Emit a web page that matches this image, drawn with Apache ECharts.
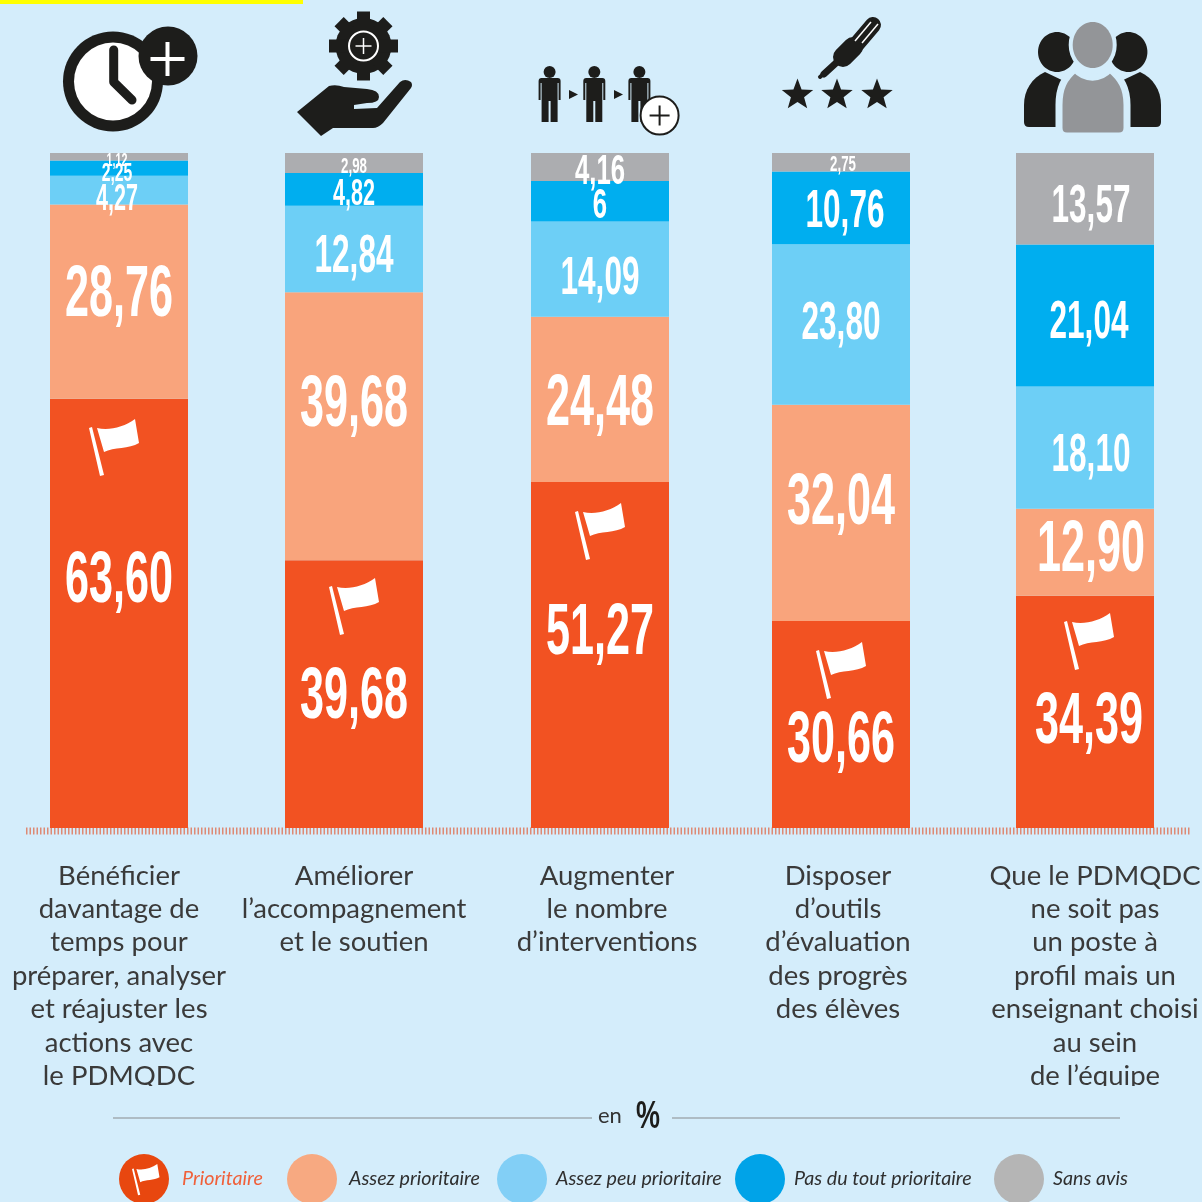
<!DOCTYPE html>
<html><head><meta charset="utf-8">
<style>html,body{margin:0;padding:0;background:#d4edfb}#c{width:1202px;height:1202px}</style>
<script src="https://cdn.jsdelivr.net/npm/echarts@6/dist/echarts.min.js"></script>
</head><body><div id="c"></div>
<script>
// ---- data ----
const categories = [
  "Bénéficier\ndavantage de\ntemps pour\npréparer, analyser\net réajuster les\nactions avec\nle PDMQDC",
  "Améliorer\nl’accompagnement\net le soutien",
  "Augmenter\nle nombre\nd’interventions",
  "Disposer\nd’outils\nd’évaluation\ndes progrès\ndes élèves",
  "Que le PDMQDC\nne soit pas\nun poste à\nprofil mais un\nenseignant choisi\nau sein\nde l’équipe"
];
const seriesNames = ["Prioritaire","Assez prioritaire","Assez peu prioritaire","Pas du tout prioritaire","Sans avis"];
const prioritaire      = [63.60,39.68,51.27,30.66,34.39];
const assezPrioritaire = [28.76,39.68,24.48,32.04,12.90];
const assezPeu         = [4.27,12.84,14.09,23.80,18.10];
const pasDuTout        = [2.25,4.82,6,10.76,21.04];
const sansAvis         = [1.12,2.98,4.16,2.75,13.57];
const allValues = [prioritaire,assezPrioritaire,assezPeu,pasDuTout,sansAvis];

// ---- layout & style ----
const BG='#d4edfb', INK='#1d1d1b', GREY='#939598';
const barColors=['#f25222','#f9a47c','#6dcff6','#00aeef','#acadb0'];
const legendColors=['#e8470f','#f7a981','#82cff6','#00a3e8','#b5b5b5'];
const legendLefts=[119,287,497,735,994];
const legendPad=[8,7,4,4,4];
const legendText=['#f0603a','#2f2f2f','#2f2f2f','#2f2f2f','#2f2f2f'];
const barLefts=[50,285,531,772,1016];
const BAR_W=138, BAR_TOP=153, BAR_H=675;
const catLabelPad=[[0,0,0,0],[0,0,0,0],[0,0,0,14],[0,6,0,0],[0,0,0,20]];
const labelSizes=[[52,52,52,52,52],[52,52,52,52,52],[26,38,38,38,38],[19,26,31,38,38],[13,16,31,16,38]];
const labelDx=[[0,0,0,0,4],[0,0,0,0,6],[-2,0,0,0,6],[-2,0,0,4,4],[-2,0,0,2,6]];
const labelDy=[[-31,4,-21,17,11],[-6,-20,6,-9,-1],[10,8,10,0,9],[6,6,5,5,8],[4,4,5,3,9]];
const flagTops=[[89,419],[329,578],[575,503],[816,642],[1064,613]];

const grids=[],xAxes=[],yAxes=[],series=[];
categories.forEach((cat,c)=>{
  grids.push({left:barLefts[c],top:BAR_TOP,width:BAR_W,height:BAR_H,containLabel:false,outerBoundsMode:'none'});
  xAxes.push({type:'category',gridIndex:c,data:[cat],axisLine:{show:false},axisTick:{show:false},
    axisLabel:{interval:0,margin:31,color:'#3a3a3a',fontFamily:'Lato',fontSize:27.5,lineHeight:33.4,padding:catLabelPad[c],align:'center',verticalAlign:'top'}});
  yAxes.push({type:'value',gridIndex:c,min:0,max:100,show:false});
  let cum=0; const labelRows=[];
  allValues.forEach((vals,s)=>{
    series.push({type:'bar',name:seriesNames[s],xAxisIndex:c,yAxisIndex:c,stack:'t'+c,barWidth:'100%',
      data:[vals[c]],itemStyle:{color:barColors[s]},silent:true,clip:false});
    labelRows.push([0,cum+vals[c]/2,vals[c],s]);
    cum+=vals[c];
  });
  series.push({type:'custom',name:'valeurs'+c,xAxisIndex:c,yAxisIndex:c,clip:false,silent:true,z:10,
    encode:{x:0,y:1},data:labelRows,
    renderItem:(params,api)=>{
      const v=api.value(2), s=api.value(3), pt=api.coord([0,api.value(1)]);
      const txt=Number.isInteger(v)?String(v):v.toFixed(2).replace('.',',');
      return {type:'text',x:pt[0]+labelDx[s][c],y:pt[1]+labelDy[s][c],scaleX:0.83,scaleY:1.4,
        style:{text:txt,fill:'#ffffff',align:'center',verticalAlign:'middle',
          fontFamily:'"Liberation Sans Narrow","Liberation Sans"',fontWeight:'bold',fontSize:labelSizes[s][c]}};
    }});
});

// ---- decorations ----
let shapeCount=0;
const pathType=d=>{const name='deco'+(shapeCount++);echarts.graphic.registerShape(name,echarts.graphic.extendPath(d,{}));return name;};
const flagType=pathType('M8 9 C20 12 35 8 46 0 L50 24 C40 30 25 28 15 33 Z M0 9 L3 8 L15 56 L11 57 Z');
const flag=(x,y,k,fill)=>({type:flagType,z:20,x,y,scaleX:k,scaleY:k,style:{fill}});
const P=(d,fill,extra)=>({type:pathType(d),z:5,style:Object.assign({fill},extra||{})});
const C=(cx,cy,r,fill,extra,z)=>({type:'circle',z:z||5,shape:{cx,cy,r},style:Object.assign({fill},extra||{})});
const E=(cx,cy,rx,ry,fill,extra)=>({type:'ellipse',z:5,shape:{cx,cy,rx,ry},style:Object.assign({fill},extra||{})});
const L=(x1,y1,x2,y2,stroke,w,cap,z)=>({type:'line',z:z||6,shape:{x1,y1,x2,y2},style:{stroke,lineWidth:w,lineCap:cap||'round'}});
const plus=(cx,cy,a,stroke,w,z)=>[L(cx-a,cy,cx+a,cy,stroke,w,'butt',z),L(cx,cy-a,cx,cy+a,stroke,w,'butt',z)];
const star=(cx,cy,R)=>{const pts=[];for(let i=0;i<10;i++){const r=i%2?R*0.42:R,a=-Math.PI/2+i*Math.PI/5;pts.push([cx+r*Math.cos(a),cy+r*Math.sin(a)]);}
  return {type:'polygon',z:5,shape:{points:pts},style:{fill:INK}};};
const person=cx=>[C(cx,72,6,INK),
  P(`M${cx-8} 78 H${cx+8} Q${cx+11} 78 ${cx+11} 81 V100 H${cx+9} V83 H${cx+8} V122 H${cx+1} V101 H${cx-1} V122 H${cx-8} V83 H${cx-9} V100 H${cx-11} V81 Q${cx-11} 78 ${cx-8} 78 Z`,INK)];
const tri=(x,y)=>P(`M${x} ${y} L${x+9} ${y+4.5} L${x} ${y+9} Z`,INK);
const gearTeeth=[];
for(let i=0;i<8;i++){const a=i*Math.PI/4;gearTeeth.push(L(363.5,46,363.5+34.5*Math.cos(a),46+34.5*Math.sin(a),INK,13,'butt'));}

const icons=[
  // clock
  C(113,81.5,50,INK),C(113,81.5,39,'#ffffff'),
  P('M113.7 50 V82 L132 100','none',{stroke:INK,lineWidth:9,lineCap:'round',lineJoin:'round'}),
  C(168,56,29.5,INK),...plus(167.5,59,17,'#ffffff',4),
  // gear & hand
  C(363.5,46,28,INK),...gearTeeth,
  C(363.5,46,14.5,'none',{stroke:'#ffffff',lineWidth:2},7),...plus(363.5,46,8,'#ffffff',1.5,7),
  P('M297 112 L329 86 Q336 84 344 87 L367 89 Q379 90 379 97 Q379 103 367 103 L354 105 V109 L377 108 L400 82 Q405 78 411 82 Q413 85 411 88 L383 123 Q378 128 373 128 L333 128 L321 136 Z',INK),
  // people
  ...person(549.6),tri(569,90),...person(594.3),tri(614,90),...person(639.4),
  C(659.6,115.5,19,'#ffffff',{stroke:INK,lineWidth:2}),...plus(659.6,115.5,10,INK,2),
  // screwdriver & stars
  L(873,25,856,45,INK,16),L(853,47,843,57,INK,20),L(836,63,824,74,INK,7),L(828,70,820,77,INK,4),
  L(878,24,862,43,'#ffffff',1.5,'butt',7),L(871,22,855,41,'#ffffff',1.5,'butt',7),
  star(797.5,95,16.5),star(837,95,16.5),star(877,95,16.5),
  // team
  E(1057,52,19,20,INK),E(1128.4,52,19,20,INK),
  P('M1024 122 V105 C1024 90 1032 78 1045 72 L1066 82 L1062 127 H1029 Q1024 127 1024 122 Z',INK),
  P('M1161 122 V105 C1161 90 1153 78 1140 72 L1119 82 L1123 127 H1156 Q1161 127 1161 122 Z',INK),
  E(1092.7,45,20,23,GREY,{stroke:BG,lineWidth:8}),
  P('M1059 128 V105 C1059 88 1064 78 1075 69 C1085 80 1100 80 1110 69 C1121 78 1127 88 1127 105 V128 Q1127 136 1119 136 H1067 Q1059 136 1059 128 Z',GREY,{stroke:BG,lineWidth:7}),
  E(1092.7,45,20,23,GREY)
];

const graphic=[
  {type:'rect',z:5,shape:{x:0,y:0,width:303,height:4},style:{fill:'#ffff00'}},
  {type:'line',z:1,shape:{x1:26,y1:831,x2:1190,y2:831},style:{stroke:'#dd8a74',lineWidth:7,lineDash:[1.5,2]}},
  // the reference crops its long captions here
  {type:'rect',z:50,shape:{x:0,y:1086,width:1202,height:14},style:{fill:BG}},
  {type:'line',z:5,shape:{x1:113,y1:1118,x2:592,y2:1118},style:{stroke:'#aebcc4',lineWidth:2}},
  {type:'line',z:5,shape:{x1:672,y1:1118,x2:1120,y2:1118},style:{stroke:'#aebcc4',lineWidth:2}},
  {type:'text',z:5,x:598,y:1116,style:{text:'en',fill:'#333',fontFamily:'Lato',fontSize:22,verticalAlign:'middle'}},
  {type:'text',z:5,x:636,y:1117,scaleX:0.75,scaleY:1.1,style:{text:'%',fill:INK,fontFamily:'"Liberation Sans Narrow","Liberation Sans"',fontWeight:'bold',fontSize:36,verticalAlign:'middle'}},
  ...icons,
  ...flagTops.map(p=>flag(p[0],p[1],1,'#ffffff')),
  flag(132,1164,0.55,'#ffffff')
];

const legends=seriesNames.map((n,i)=>({left:legendLefts[i],top:1154,padding:0,orient:'horizontal',selectedMode:false,
  itemWidth:50,itemHeight:50,icon:'circle',
  data:[{name:n,icon:'circle',itemStyle:{color:legendColors[i]},
    textStyle:{color:legendText[i],fontFamily:'Lato',fontStyle:'italic',fontSize:19.7,padding:[0,0,0,legendPad[i]]}}]}));

const chart=echarts.init(document.getElementById('c'),null,{renderer:'canvas'});
chart.setOption({animation:false,backgroundColor:BG,tooltip:{show:false},
  grid:grids,xAxis:xAxes,yAxis:yAxes,series,legend:legends,graphic});
</script></body></html>
